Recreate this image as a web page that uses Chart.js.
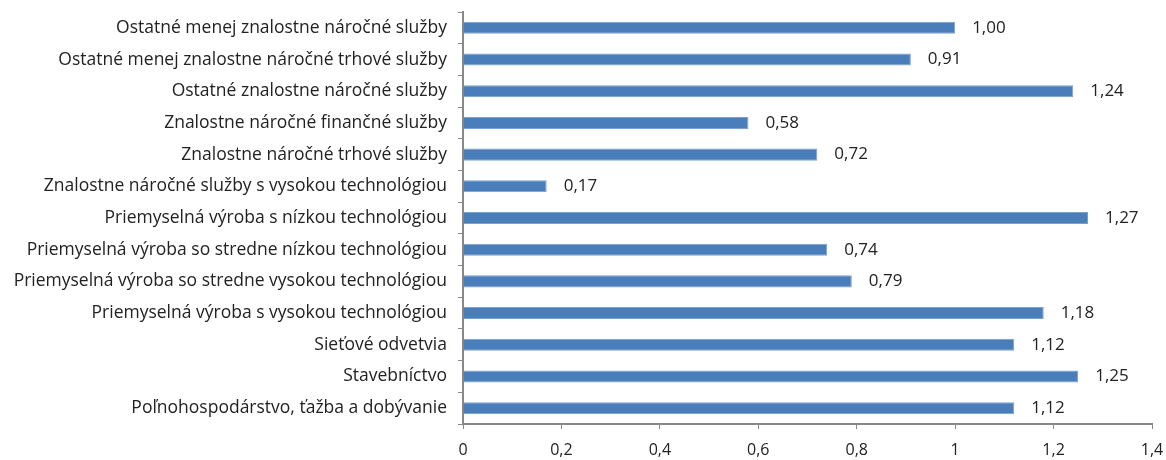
<!DOCTYPE html>
<html><head><meta charset="utf-8">
<script src="https://cdn.jsdelivr.net/npm/chart.js@4"></script>
<style>html,body{margin:0;padding:0;background:#fff}#wrap{width:1166px;height:460px}</style>
</head><body><div id="wrap"><canvas id="c" width="1166" height="460"></canvas></div>
<script>
const categories = [
  "Ostatné menej znalostne náročné služby",
  "Ostatné menej znalostne náročné trhové služby",
  "Ostatné znalostne náročné služby",
  "Znalostne náročné finančné služby",
  "Znalostne náročné trhové služby",
  "Znalostne náročné služby s vysokou technológiou",
  "Priemyselná výroba s nízkou technológiou",
  "Priemyselná výroba so stredne nízkou technológiou",
  "Priemyselná výroba so stredne vysokou technológiou",
  "Priemyselná výroba s vysokou technológiou",
  "Sieťové odvetvia",
  "Stavebníctvo",
  "Poľnohospodárstvo, ťažba a dobývanie"
];
const values = [1.00, 0.91, 1.24, 0.58, 0.72, 0.17, 1.27, 0.74, 0.79, 1.18, 1.12, 1.25, 1.12];
const xTicks = [0, 0.2, 0.4, 0.6, 0.8, 1, 1.2, 1.4];

const fmt = v => String(Math.round(v * 10) / 10).replace('.', ',');
const FONT = "'Open Sans', sans-serif";

const labelPlugin = {
  id: 'vals',
  afterDatasetsDraw(chart) {
    const ctx = chart.ctx;
    const meta = chart.getDatasetMeta(0);
    ctx.save();
    ctx.font = "17px " + FONT;
    ctx.fillStyle = '#222';
    ctx.textAlign = 'left';
    ctx.textBaseline = 'middle';
    meta.data.forEach((bar, i) => {
      ctx.fillText(values[i].toFixed(2).replace('.', ','), bar.x + 17, bar.y);
    });
    ctx.restore();
  }
};

new Chart(document.getElementById('c'), {
  type: 'bar',
  data: {
    labels: categories,
    datasets: [{
      data: values,
      backgroundColor: '#4a7ebb',
      borderColor: '#7aa0cf',
      borderWidth: 1,
      barPercentage: 0.38,
      categoryPercentage: 1
    }]
  },
  options: {
    indexAxis: 'y',
    responsive: false,
    animation: false,
    layout: { padding: { top: 12, right: 14, left: 0, bottom: 0 } },
    plugins: { legend: { display: false }, tooltip: { enabled: false } },
    scales: {
      x: {
        min: 0, max: 1.4,
        afterBuildTicks: s => { s.ticks = xTicks.map(v => ({ value: v })); },
        ticks: { callback: v => fmt(v), color: '#222', font: { family: FONT, size: 16 }, padding: 12, maxRotation: 0 },
        grid: { drawOnChartArea: false, drawTicks: true, tickLength: 5, color: '#888', lineWidth: 1 },
        border: { color: '#888', width: 2 },
        afterFit: s => { s.height = 36; s.paddingLeft = 0; s.paddingRight = 0; }
      },
      y: {
        ticks: { color: '#222', font: { family: FONT, size: 17.5 }, padding: 11 },
        grid: { drawOnChartArea: false, drawTicks: true, tickLength: 5, color: '#888', lineWidth: 1, offset: true },
        border: { color: '#888', width: 2 },
        afterFit: s => { s.width = 463; s.paddingTop = 0; s.paddingBottom = 0; }
      }
    }
  },
  plugins: [labelPlugin]
});
</script></body></html>
